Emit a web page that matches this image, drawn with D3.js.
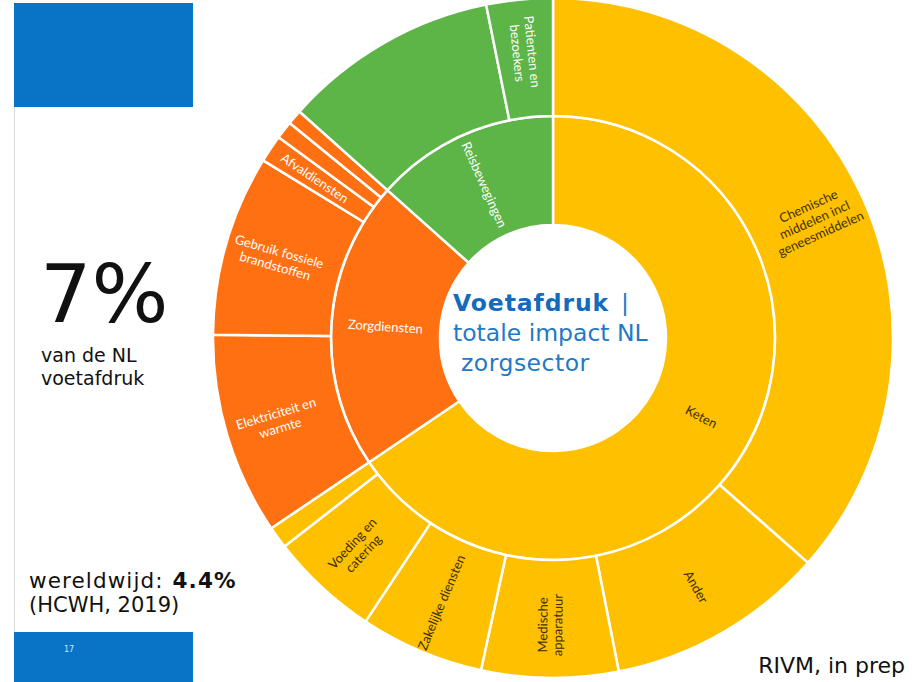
<!DOCTYPE html>
<html>
<head>
<meta charset="utf-8">
<script src="https://cdn.jsdelivr.net/npm/d3@7"></script>
<style>
  body { margin: 0; background: #fff; }
  svg { display: block; }
</style>
</head>
<body>
<script>
// Footprint of the Dutch care sector (share of total, %)
var groups = ["Keten", "Zorgdiensten", "Reisbewegingen"];
var groupColors = ["#FFC000", "#FF7012", "#5DB548"];
var groupTextColors = ["#3b2f05", "#ffffff", "#ffffff"];

var ketenNames = ["Chemische\nmiddelen incl\ngeneesmiddelen", "Ander", "Medische\napparatuur",
    "Zakelijke diensten", "Voeding en\ncatering", ""];
var ketenValues = [36.5, 10.4, 6.5, 5.9, 5.2, 1.05];

var zorgNames = ["Elektriciteit en\nwarmte", "Gebruik fossiele\nbrandstoffen", "Afvaldiensten", "", ""];
var zorgValues = [9.6, 8.6, 1.3, 0.85, 0.7];

var reisNames = ["", "Patienten en\nbezoekers"];
var reisValues = [10.25, 3.15];

var W = 916, H = 682;
var CX = 553, CY = 338;
var RADII = [0, 113, 222, 340];
var LABEL_R = [0, 168, 287];

function kids(names, values) {
    return names.map(function (n, i) { return {name: n, value: values[i]}; });
}
var tree = {
    name: "root",
    children: [
        {name: groups[0], children: kids(ketenNames, ketenValues)},
        {name: groups[1], children: kids(zorgNames, zorgValues)},
        {name: groups[2], children: kids(reisNames, reisValues)}
    ]
};

var root = d3.hierarchy(tree).sum(function (d) { return d.children ? 0 : d.value; });
d3.partition().size([2 * Math.PI, 3])(root);

function groupIndex(d) {
    var top = d.depth === 1 ? d : d.parent;
    return groups.indexOf(top.data.name);
}

var arc = d3.arc()
    .startAngle(function (d) { return d.x0; })
    .endAngle(function (d) { return d.x1; })
    .innerRadius(function (d) { return RADII[d.depth]; })
    .outerRadius(function (d) { return RADII[d.depth + 1]; });

var svg = d3.select("body").append("svg")
    .attr("width", W)
    .attr("height", H);

svg.append("rect").attr("width", W).attr("height", H).attr("fill", "#fff");

// left slide panel
svg.append("rect").attr("x", 14).attr("y", 3).attr("width", 179).attr("height", 104).attr("fill", "#0973C6");
svg.append("rect").attr("x", 14).attr("y", 632).attr("width", 179).attr("height", 50).attr("fill", "#0973C6");
svg.append("line").attr("x1", 14.5).attr("x2", 14.5).attr("y1", 107).attr("y2", 632)
    .attr("stroke", "#dcdcdc").attr("stroke-width", 1);
svg.append("text").attr("x", 64).attr("y", 652).attr("fill", "#cfe6fb")
    .attr("font-family", "DejaVu Sans").attr("font-size", 8).text("17");

var left = svg.append("g").attr("font-family", "DejaVu Sans").attr("fill", "#111");
left.append("text").attr("x", 40).attr("y", 322).attr("font-size", 81).text("7%");
left.append("text").attr("x", 41).attr("y", 362).attr("font-size", 19).text("van de NL");
left.append("text").attr("x", 41).attr("y", 385).attr("font-size", 19).text("voetafdruk");
var ww = left.append("text").attr("x", 29).attr("y", 588).attr("font-size", 21.5)
    .attr("letter-spacing", 1.1);
ww.append("tspan").text("wereldwijd:");
ww.append("tspan").attr("dx", 9).attr("font-weight", "bold").text("4.4%");
left.append("text").attr("x", 29).attr("y", 612).attr("font-size", 21).text("(HCWH, 2019)");

svg.append("text").attr("x", 905).attr("y", 673).attr("text-anchor", "end")
    .attr("font-family", "DejaVu Sans").attr("font-size", 22).attr("fill", "#111")
    .text("RIVM, in prep");

// sunburst
var chart = svg.append("g").attr("transform", "translate(" + CX + "," + CY + ")");
var nodes = root.descendants().filter(function (d) { return d.depth > 0; });

chart.selectAll("path.slice")
    .data(nodes)
    .join("path")
    .attr("class", "slice")
    .attr("d", arc)
    .attr("fill", function (d) { return groupColors[groupIndex(d)]; })
    .attr("stroke", "#fff")
    .attr("stroke-width", 2.5)
    .attr("stroke-linejoin", "round");

var labels = chart.selectAll("g.label")
    .data(nodes.filter(function (d) { return d.data.name; }))
    .join("g")
    .attr("class", "label")
    .attr("transform", function (d) {
        var a = (d.x0 + d.x1) / 2 * 180 / Math.PI;
        return "rotate(" + (a - 90) + ") translate(" + LABEL_R[d.depth] + ",0) rotate(" + (a > 180 ? 180 : 0) + ")";
    });

labels.each(function (d) {
    var lines = d.data.name.split("\n");
    var lh = 15;
    d3.select(this).selectAll("text")
        .data(lines)
        .join("text")
        .attr("y", function (l, i) { return (i - (lines.length - 1) / 2) * lh; })
        .attr("dy", "0.35em")
        .attr("text-anchor", "middle")
        .attr("font-family", "Lato, 'Open Sans', sans-serif")
        .attr("font-size", 13)
        .attr("fill", groupTextColors[groupIndex(d)])
        .text(function (l) { return l; });
});

// centre caption
var cap = svg.append("g").attr("font-family", "DejaVu Sans").attr("font-size", 23.5);
var t1 = cap.append("text").attr("x", 453).attr("y", 311);
t1.append("tspan").attr("font-weight", "bold").attr("letter-spacing", 0.9).attr("fill", "#136bbd").text("Voetafdruk");
t1.append("tspan").attr("dx", 12).attr("fill", "#2279c6").text("|");
cap.append("text").attr("x", 453).attr("y", 341).attr("fill", "#2279c6").text("totale impact NL");
cap.append("text").attr("x", 461).attr("y", 371).attr("fill", "#2279c6").attr("letter-spacing", 0.5).text("zorgsector");
</script>
</body>
</html>
